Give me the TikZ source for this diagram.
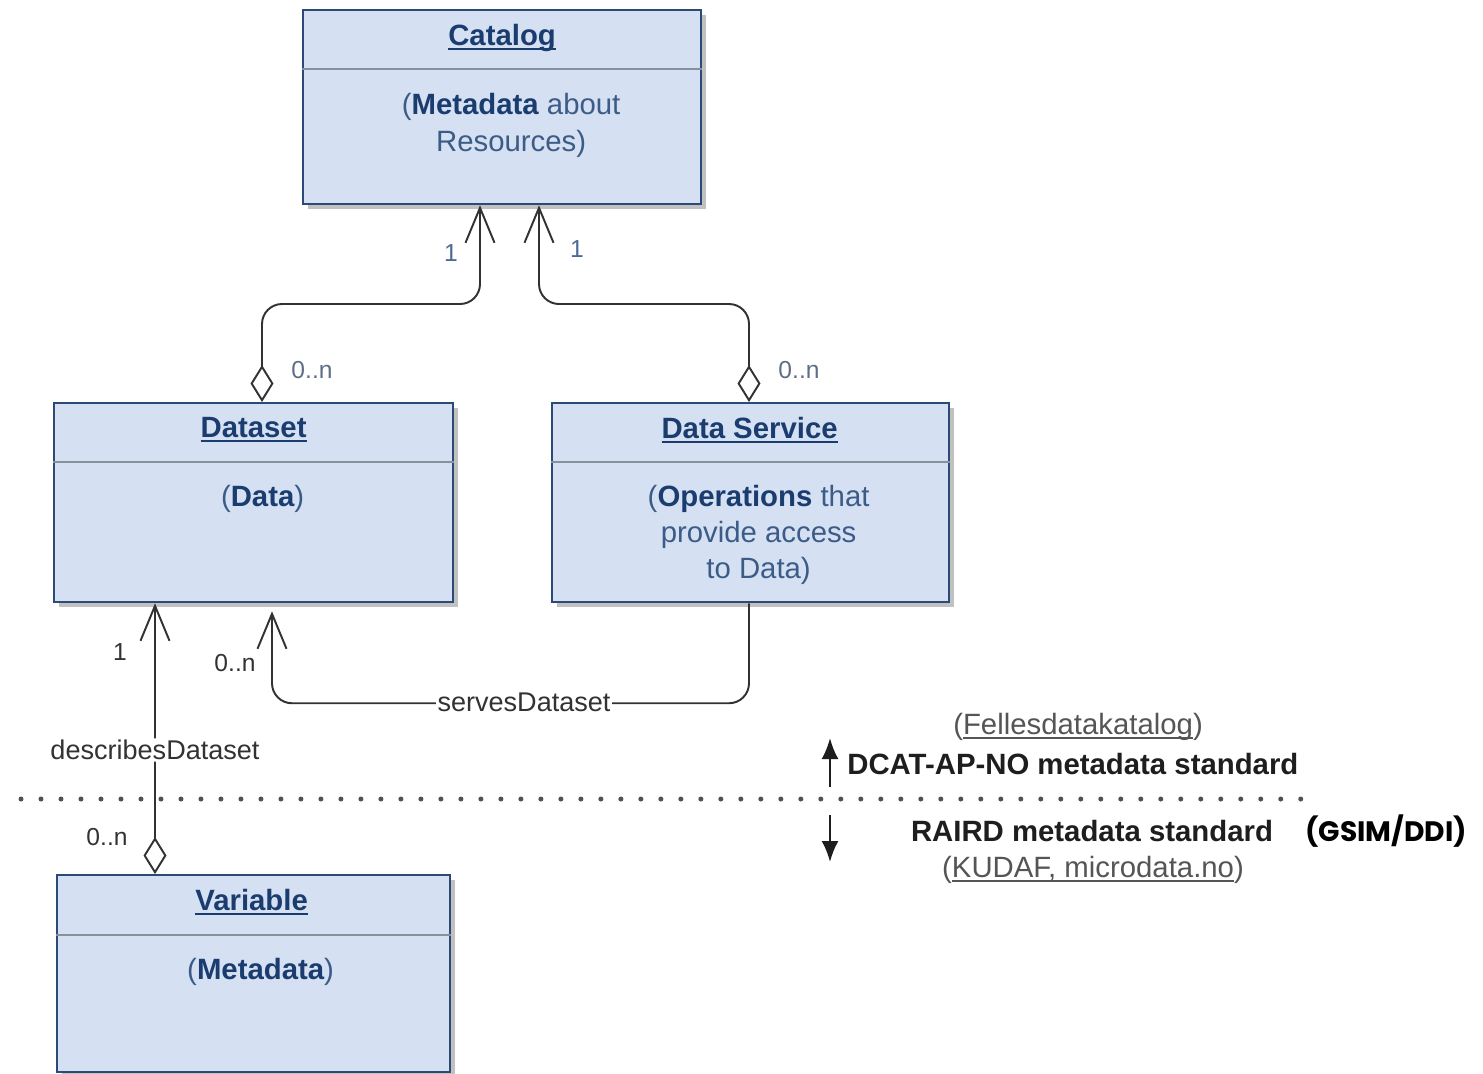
\documentclass[tikz,border=0pt]{standalone}
\usepackage{fontspec}
\setmainfont{Liberation Sans}
\newfontfamily\popfont{Poppins}
\newcommand\uln[1]{\leavevmode\setbox0=\hbox{#1}\rlap{\copy0}\raisebox{-2.6pt}{\rule{\wd0}{1.1pt}}}
\usetikzlibrary{arrows.meta,shadows,calc}
\definecolor{boxfill}{RGB}{213,225,243}
\definecolor{boxline}{RGB}{44,74,120}
\definecolor{titlecol}{RGB}{26,60,110}
\definecolor{bodycol}{RGB}{60,92,135}
\definecolor{divcol}{RGB}{135,145,155}
\definecolor{conncol}{RGB}{50,50,50}
\definecolor{multblue}{RGB}{75,105,150}
\definecolor{multgray}{RGB}{95,110,135}
\definecolor{dotcol}{RGB}{80,80,80}
\definecolor{stdcol}{RGB}{30,30,30}
\definecolor{subcol}{RGB}{85,85,85}
\begin{document}
\begin{tikzpicture}[x=0.02cm,y=-0.02cm,
  umlbox/.style={draw=boxline, fill=boxfill, line width=1.3pt, anchor=north west, inner sep=0pt,
    drop shadow={shadow xshift=0.1cm, shadow yshift=-0.1cm, fill=black!40, opacity=0.6}},
  divider/.style={draw=divcol, line width=1.1pt},
  titletext/.style={text=titlecol, font=\fontsize{16.7}{20}\selectfont\bfseries, inner sep=0pt},
  bodytext/.style={text=bodycol, font=\fontsize{16.7}{21}\selectfont, align=center, inner sep=0pt},
  conn/.style={draw=conncol, line width=1.1pt, rounded corners=0.4cm},
  diam/.tip={Diamond[open, fill=white, length=0.74cm, width=0.46cm]},
  barb/.tip={Straight Barb[length=0.7cm, width=0.58cm]},
  mult/.style={font=\fontsize{14}{16}\selectfont, inner sep=0pt},
  lbl/.style={font=\fontsize{15.4}{18}\selectfont, text=conncol, fill=white, inner sep=1pt},
  dotline/.style={draw=dotcol, line width=0.1cm, line cap=round, dash pattern=on 0pt off 0.4cm},
  stdtext/.style={font=\fontsize{16.7}{20}\selectfont\bfseries, text=stdcol, inner sep=0pt},
  subtext/.style={font=\fontsize{16.7}{20}\selectfont, text=subcol, inner sep=0pt},
  legarrow/.style={line width=1.4pt, draw=stdcol, -{Latex[length=0.42cm, width=0.34cm]}}
]
\useasboundingbox (0,0) rectangle (1483,1073);
\fill[white] (0,0) rectangle (1483,1073);

% boxes
\node[umlbox, minimum width=7.96cm, minimum height=3.88cm] (catalog) at (302,9) {};
\node[umlbox, minimum width=7.98cm, minimum height=3.98cm] (dataset) at (53,402) {};
\node[umlbox, minimum width=7.94cm, minimum height=3.98cm] (service) at (551,402) {};
\node[umlbox, minimum width=7.86cm, minimum height=3.94cm] (variable) at (56,874) {};

% dividers
\draw[divider] ($(catalog.north west)+(0,60)$) -- ($(catalog.north east)+(0,60)$);
\draw[divider] ($(dataset.north west)+(0,60)$) -- ($(dataset.north east)+(0,60)$);
\draw[divider] ($(service.north west)+(0,60)$) -- ($(service.north east)+(0,60)$);
\draw[divider] ($(variable.north west)+(0,61)$) -- ($(variable.north east)+(0,61)$);

% texts in boxes
\node[titletext] (catalogT) at ($(catalog.north)+(0,29)$) {\uln{Catalog}};
\node[bodytext] (catalogB) at ($(catalog.north)+(9,116)$) {(\textbf{\color{titlecol}Metadata} about\\Resources)};
\node[titletext] (datasetT) at ($(dataset.north)+(0,28)$) {\uln{Dataset}};
\node[bodytext] (datasetB) at ($(dataset.north)+(9,97)$) {(\textbf{\color{titlecol}Data})};
\node[titletext] (serviceT) at ($(service.north)+(-1,28)$) {\uln{Data Service}};
\node[bodytext, font=\fontsize{16.7}{20.4}\selectfont] (serviceB) at ($(service.north)+(8,133)$) {(\textbf{\color{titlecol}Operations} that\\provide access\\to Data)};
\node[titletext] (variableT) at ($(variable.north)+(-2,28)$) {\uln{Variable}};
\node[bodytext] (variableB) at ($(variable.north)+(7,98)$) {(\textbf{\color{titlecol}Metadata})};

% dotted separator
\coordinate (dotL) at (21,799);
\coordinate (dotR) at (1305,799);
\draw[dotline] (dotL) -- (dotR);

% connectors to catalog
\coordinate (dsTop) at ($(dataset.north west)+(209,0)$);
\coordinate (catL) at ($(catalog.south west)+(178,0)$);
\draw[conn, diam-barb] (dsTop) -- ++(0,-98) -| (catL);
\coordinate (svTop) at ($(service.north west)+(198,0)$);
\coordinate (catR) at ($(catalog.south west)+(237,0)$);
\draw[conn, diam-barb] (svTop) -- ++(0,-98) -| (catR);

\node[mult, text=multblue] (m1) at (451,253) {1};
\node[mult, text=multblue] (m2) at (577,249) {1};
\node[mult, text=multgray] (m3) at (312,370) {0..n};
\node[mult, text=multgray] (m4) at (799,370) {0..n};

% variable -> dataset
\coordinate (varTop) at ($(variable.north west)+(99,0)$);
\coordinate (dsBotA) at ($(dataset.south west)+(102,0)$);
\draw[conn, diam-barb] (varTop) -- node[lbl, pos=0.458] (descL) {describesDataset} (dsBotA);
\node[mult, text=conncol] (m5) at (120,652) {1};
\node[mult, text=conncol] (m6) at (107,837) {0..n};

% service -> dataset
\coordinate (svBot) at ($(service.south west)+(198,0)$);
\coordinate (dsBotB) at ($(dataset.south west)+(219,8)$);
\draw[conn, -barb] (svBot) |- ($(dsBotB)+(0,92)$) -- (dsBotB);
\node[lbl] (servL) at (524,702) {servesDataset};
\node[mult, text=conncol] (m7) at (235,663) {0..n};

% standards legend
\node[subtext] (felles) at (1078,727) {(\uln{Fellesdatakatalog})};
\node[stdtext, anchor=west] (dcat) at (847,764) {DCAT-AP-NO metadata standard};
\coordinate (upS) at (830,787);
\coordinate (upE) at (830,738);
\draw[legarrow] (upS) -- (upE);
\coordinate (dnS) at (830,815);
\coordinate (dnE) at (830,862);
\draw[legarrow] (dnS) -- (dnE);
\node[stdtext] (raird) at (1092,831) {RAIRD metadata standard};
\node[subtext] (kudaf) at (1093,870) {(\uln{KUDAF, microdata.no})};
\node[inner sep=0pt, font=\popfont\fontsize{16}{20}\selectfont\bfseries] (gsim) at (1386,831) {(GSIM/DDI)};
\end{tikzpicture}
\end{document}
